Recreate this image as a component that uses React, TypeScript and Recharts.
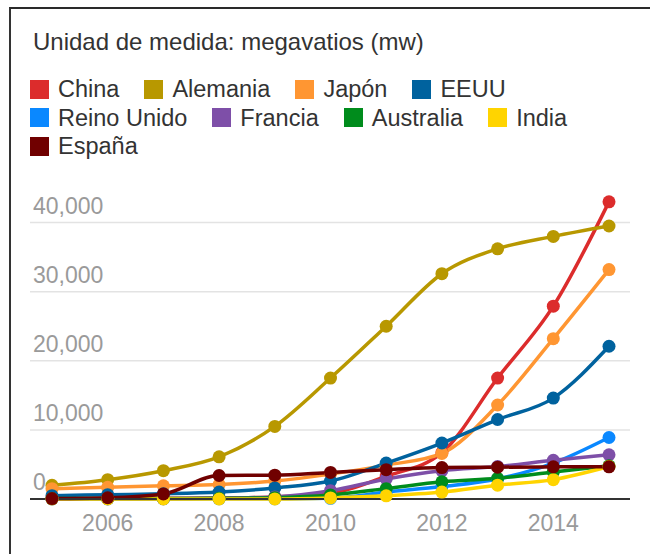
import { LineChart, Line, XAxis, YAxis, CartesianGrid } from "recharts";

const FONT = "'Liberation Sans', Arial, sans-serif";

const years = [2005, 2006, 2007, 2008, 2009, 2010, 2011, 2012, 2013, 2014, 2015];
const china = [70, 80, 100, 140, 300, 800, 3300, 6700, 17500, 27900, 43000];
const alemania = [1980, 2800, 4100, 6100, 10500, 17500, 25000, 32600, 36200, 38000, 39500];
const japon = [1500, 1700, 1900, 2100, 2600, 3600, 4900, 6600, 13600, 23200, 33200];
const eeuu = [480, 620, 750, 1000, 1600, 2600, 5200, 8100, 11500, 14600, 22100];
const reinoUnido = [10, 15, 20, 25, 30, 100, 1000, 1800, 2900, 5200, 8900];
const francia = [30, 35, 50, 100, 300, 1200, 2900, 4100, 4700, 5600, 6400];
const australia = [60, 70, 80, 100, 190, 570, 1500, 2500, 3000, 3900, 4800];
const india = [0, 0, 0, 0, 10, 160, 460, 1000, 2000, 2800, 4700];
const espana = [60, 180, 730, 3400, 3450, 3850, 4250, 4550, 4600, 4650, 4650];

const yTicks = [0, 10000, 20000, 30000, 40000];
const xTicks = [2006, 2008, 2010, 2012, 2014];

const series = [
  { key: "china", name: "China", color: "#dc2c2c", values: china },
  { key: "alemania", name: "Alemania", color: "#b89800", values: alemania },
  { key: "japon", name: "Japón", color: "#ff9632", values: japon },
  { key: "eeuu", name: "EEUU", color: "#00629e", values: eeuu },
  { key: "reinoUnido", name: "Reino Unido", color: "#0a88ff", values: reinoUnido },
  { key: "francia", name: "Francia", color: "#7e4fa8", values: francia },
  { key: "australia", name: "Australia", color: "#008c1c", values: australia },
  { key: "india", name: "India", color: "#ffd400", values: india },
  { key: "espana", name: "España", color: "#700000", values: espana },
];

const chartData = years.map((year, i) => {
  const row: Record<string, number> = { year };
  series.forEach((s) => {
    row[s.key] = s.values[i];
  });
  return row;
});

const renderYTick = ({ y, payload }: any) => (
  <text x={33} y={y - 9} fill="#9a9a9a" fontSize={23} fontFamily={FONT} textAnchor="start">
    {Number(payload.value).toLocaleString("en-US")}
  </text>
);

const renderXTick = ({ x, payload }: any) => (
  <text x={x} y={531} fill="#9a9a9a" fontSize={23} fontFamily={FONT} textAnchor="middle">
    {payload.value}
  </text>
);

function LegendBlock() {
  return (
    <div
      style={{
        position: "absolute",
        left: 30,
        top: 75,
        width: 590,
        display: "flex",
        flexWrap: "wrap",
        columnGap: 25,
        fontFamily: FONT,
        fontSize: 23.5,
        lineHeight: "28.5px",
        color: "#333",
      }}
    >
      {series.map((s) => (
        <div key={s.key} style={{ display: "flex", alignItems: "center" }}>
          <span
            style={{ width: 19, height: 19, background: s.color, marginRight: 9, display: "inline-block" }}
          />
          <span>{s.name}</span>
        </div>
      ))}
    </div>
  );
}

export default function App() {
  return (
    <div style={{ position: "absolute", left: 0, top: 0, width: 650, height: 554, background: "#fff" }}>
      <div
        style={{
          position: "absolute",
          left: 9,
          top: 7,
          width: 641,
          height: 547,
          borderTop: "2px solid #2a2a2a",
          borderLeft: "2px solid #333",
          boxSizing: "border-box",
        }}
      />
      <div
        style={{
          position: "absolute",
          left: 33,
          top: 28,
          fontFamily: FONT,
          fontSize: 24,
          lineHeight: "28px",
          color: "#333",
          whiteSpace: "nowrap",
        }}
      >
        Unidad de medida: megavatios (mw)
      </div>
      <LegendBlock />
      <div style={{ position: "absolute", left: 0, top: 0 }}>
        <LineChart
          width={650}
          height={554}
          data={chartData}
          margin={{ top: 188, right: 20, left: 29, bottom: 15 }}
        >
          <CartesianGrid
            vertical={false}
            horizontalValues={yTicks}
            stroke="#e3e3e3"
            strokeWidth={1.5}
          />
          <YAxis
            type="number"
            domain={[0, 45000]}
            ticks={yTicks}
            interval={0}
            width={1}
            axisLine={false}
            tickLine={false}
            tick={renderYTick}
          />
          <XAxis
            dataKey="year"
            type="number"
            domain={[2005, 2015]}
            ticks={xTicks}
            padding={{ left: 22, right: 21 }}
            height={40}
            axisLine={{ stroke: "#333", strokeWidth: 2 }}
            tickLine={false}
            tick={renderXTick}
          />
          {series.map((s) => (
            <Line
              key={s.key}
              dataKey={s.key}
              name={s.name}
              type="monotone"
              stroke={s.color}
              strokeWidth={3.5}
              dot={{ r: 6.5, fill: s.color, stroke: s.color, strokeWidth: 0 }}
              isAnimationActive={false}
            />
          ))}
        </LineChart>
      </div>
    </div>
  );
}
